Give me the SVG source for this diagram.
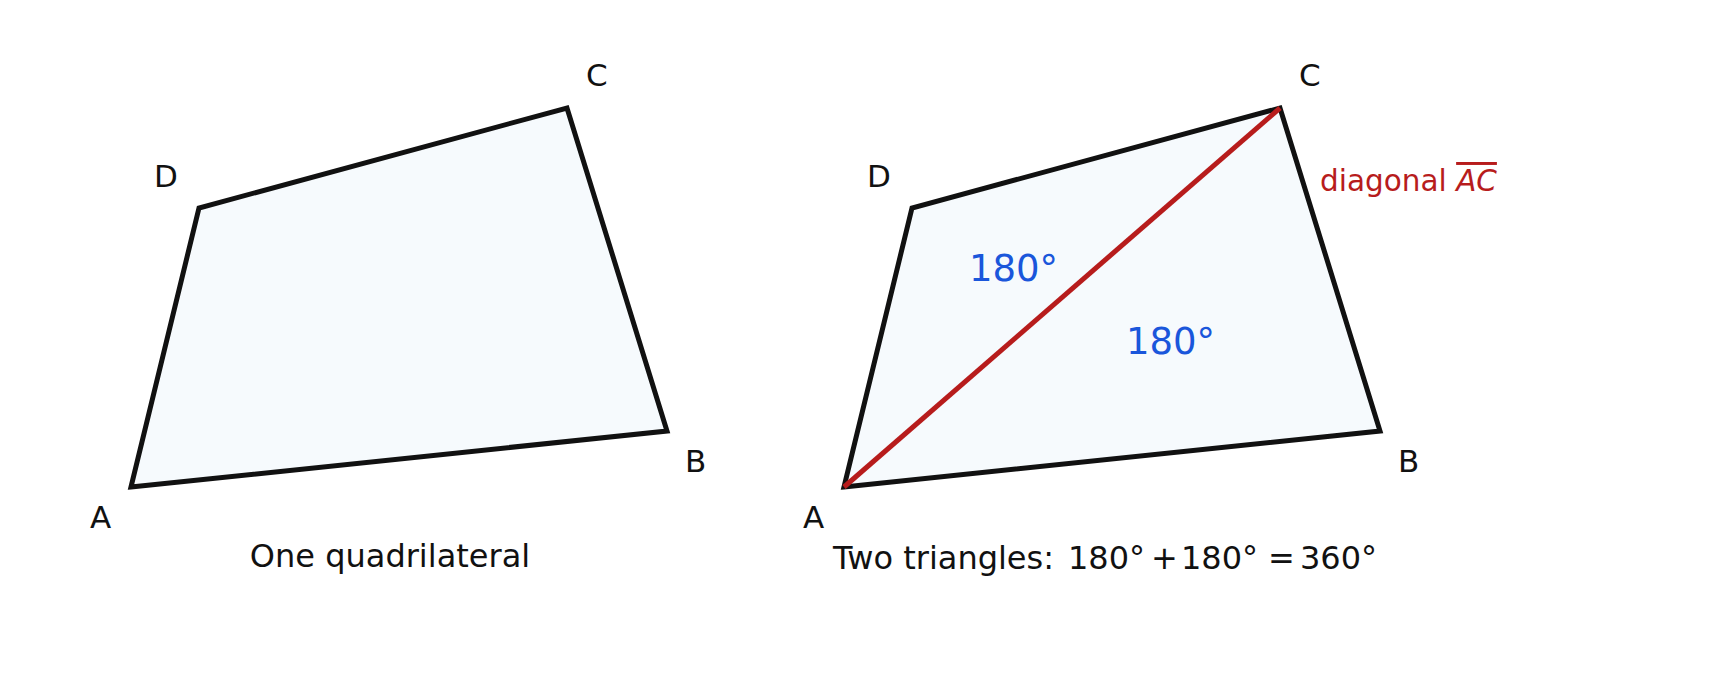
<svg xmlns="http://www.w3.org/2000/svg" width="1712" height="686" viewBox="0 0 1712 686">
<style>
.quad{fill:#f6fafd;stroke:#111111;stroke-width:5;stroke-linejoin:miter}
.lbl{font-family:"DejaVu Sans",sans-serif;font-size:31px;fill:#111111}
.cap{font-family:"DejaVu Sans",sans-serif;font-size:32px;fill:#111111}
.ang{font-family:"DejaVu Sans",sans-serif;font-size:37px;fill:#1a56db}
.diag{font-family:"DejaVu Sans",sans-serif;font-size:29.5px;fill:#b71c1c}
</style>
<rect width="1712" height="686" fill="#ffffff"/>
<g id="left-quad">
<polygon class="quad" points="131,487 667,431 567,108 199,208"/>
<text class="lbl" x="90" y="528">A</text>
<text class="lbl" x="685" y="472">B</text>
<text class="lbl" x="586" y="86">C</text>
<text class="lbl" x="154" y="187">D</text>
<text class="cap" x="390" y="567" text-anchor="middle">One quadrilateral</text>
</g>
<g id="right-quad">
<polygon class="quad" points="844,487 1380,431 1280,108 912,208"/>
<text class="lbl" x="803" y="528">A</text>
<text class="lbl" x="1398" y="472">B</text>
<text class="lbl" x="1299" y="86">C</text>
<text class="lbl" x="867" y="187">D</text>
<text class="ang" x="969" y="281">180°</text>
<text class="ang" x="1126" y="354">180°</text>
<text class="cap" y="569"><tspan x="833">Two triangles:</tspan><tspan x="1068">180°</tspan><tspan x="1151">+</tspan><tspan x="1181">180°</tspan><tspan x="1268">=</tspan><tspan x="1300">360°</tspan></text>
</g>
<g id="connectors">
<line x1="844" y1="487" x2="1280" y2="108" stroke="#b71c1c" stroke-width="5"/>
</g>
<g id="diagonal-label">
<text class="diag" x="1320" y="191">diagonal <tspan font-style="italic" text-decoration="overline">AC</tspan></text>
</g>
</svg>
